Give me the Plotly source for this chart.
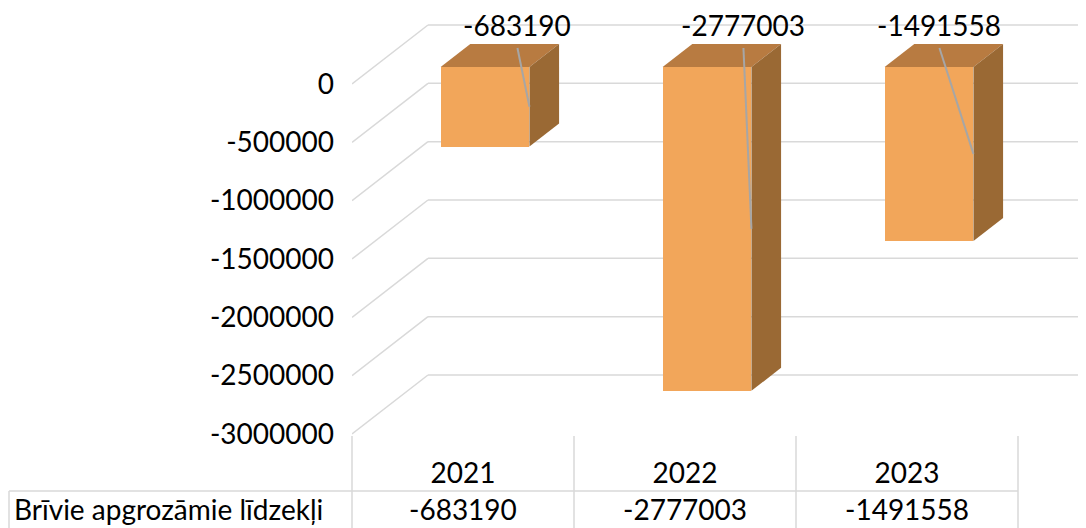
import plotly.graph_objects as go

# ---------------- data ----------------
categories = ["2021", "2022", "2023"]
values = [-683190, -2777003, -1491558]
series_name = "Brīvie apgrozāmie līdzekļi"
tick_values = [0, -500000, -1000000, -1500000, -2000000, -2500000, -3000000]
tick_labels = ["0", "-500000", "-1000000", "-1500000", "-2000000", "-2500000", "-3000000"]

# ---------------- style / geometry ----------------
OFF = 8                       # page body margin in the browser
W, H = 1086 - OFF, 528 - OFF
ML = 352 - OFF
PLOT_H = 440 - OFF
MB = H - PLOT_H
K = 350 / 3e6                 # px per value unit
Y_ZERO_PX = 84 - OFF
y_top = Y_ZERO_PX / K
y_bot = -(PLOT_H - Y_ZERO_PX) / K
SLOT_PX = 222
x_left = -0.5
x_right = -0.5 + (W - ML) / SLOT_PX
DEPTH_DX = 76 / SLOT_PX       # x units for full depth
DEPTH_DY = 59 / K             # value units for full depth
D_FRONT, D_BACK = 0.29, 0.68
HALF_W = 0.2
FRONT_C = "#F2A65A"
TOP_C = "#B87B41"
SIDE_C = "#9A6934"
GRID_C = "#D9D9D9"
LEADER_C = "#A6A6A6"
FONT = "Lato"
FS = 28
label_dx_px = [-12, -8, -34]
LABEL_Y = 25 - OFF            # px
LEADER_TOP = 48 - OFF         # px


def px_to_val(py):
    return (Y_ZERO_PX - py) / K


def xpaper(x):
    return (x - x_left) / (x_right - x_left)


def ypaper(py_ref):
    return (PLOT_H - (py_ref - OFF)) / PLOT_H


def xpaper_px(px_ref):
    return ((px_ref - OFF) - ML) / (W - ML)


fig = go.Figure()

xs = list(range(len(categories)))
front_shift_x = DEPTH_DX * D_FRONT
front_shift_y = DEPTH_DY * D_FRONT
back_shift_x = DEPTH_DX * D_BACK
back_shift_y = DEPTH_DY * D_BACK
ddx = back_shift_x - front_shift_x
ddy = back_shift_y - front_shift_y

# front faces
fig.add_trace(go.Bar(
    x=[i + front_shift_x for i in xs], y=values, base=front_shift_y,
    width=2 * HALF_W, marker=dict(color=FRONT_C, line=dict(width=0)),
    hoverinfo="skip", showlegend=False))

for i, v in zip(xs, values):
    c = i + front_shift_x
    l, r = c - HALF_W, c + HALF_W
    b0 = front_shift_y
    # top face
    fig.add_trace(go.Scatter(
        x=[l, r, r + ddx, l + ddx, l],
        y=[b0, b0, b0 + ddy, b0 + ddy, b0],
        fill="toself", fillcolor=TOP_C, mode="lines", line=dict(width=0, color=TOP_C),
        hoverinfo="skip", showlegend=False))
    # side face
    fig.add_trace(go.Scatter(
        x=[r, r + ddx, r + ddx, r, r],
        y=[b0, b0 + ddy, b0 + ddy + v, b0 + v, b0],
        fill="toself", fillcolor=SIDE_C, mode="lines", line=dict(width=0, color=SIDE_C),
        hoverinfo="skip", showlegend=False))

# leader lines and data labels
for i, v, dpx in zip(xs, values, label_dx_px):
    r = i + front_shift_x + HALF_W
    lx = r + dpx / SLOT_PX
    fig.add_trace(go.Scatter(
        x=[lx, r], y=[px_to_val(LEADER_TOP), front_shift_y + v / 2],
        mode="lines", line=dict(color=LEADER_C, width=2),
        hoverinfo="skip", showlegend=False))
    fig.add_annotation(x=lx, y=px_to_val(LABEL_Y), text=str(v), showarrow=False,
                       font=dict(family=FONT, size=FS, color="black"),
                       xanchor="center", yanchor="middle")

# gridlines (back wall + side wall)
shapes = []
for t in tick_values:
    shapes.append(dict(type="line", xref="x", yref="y", layer="below",
                       x0=x_left, y0=t, x1=x_left + DEPTH_DX, y1=t + DEPTH_DY,
                       line=dict(color=GRID_C, width=1.5)))
    shapes.append(dict(type="line", xref="x", yref="y", layer="below",
                       x0=x_left + DEPTH_DX, y0=t + DEPTH_DY, x1=x_right + 1, y1=t + DEPTH_DY,
                       line=dict(color=GRID_C, width=1.5)))

# data table borders
for b in [-0.5, 0.5, 1.5, 2.5]:
    shapes.append(dict(type="line", xref="paper", yref="paper",
                       x0=xpaper(b), x1=xpaper(b), y0=ypaper(436), y1=ypaper(530),
                       line=dict(color=GRID_C, width=1.5)))
tbl_left = xpaper_px(9)
shapes.append(dict(type="line", xref="paper", yref="paper",
                   x0=tbl_left, x1=xpaper(2.5), y0=ypaper(491), y1=ypaper(491),
                   line=dict(color=GRID_C, width=1.5)))
shapes.append(dict(type="line", xref="paper", yref="paper",
                   x0=tbl_left, x1=tbl_left, y0=ypaper(491), y1=ypaper(530),
                   line=dict(color=GRID_C, width=1.5)))

# table data row
for i, v in zip(xs, values):
    fig.add_annotation(x=i, xref="x", y=ypaper(509), yref="paper", text=str(v),
                       showarrow=False, font=dict(family=FONT, size=FS, color="black"),
                       xanchor="center", yanchor="middle")
fig.add_annotation(x=xpaper_px(12), xref="paper", y=ypaper(509), yref="paper",
                   text=series_name, showarrow=False,
                   font=dict(family=FONT, size=FS, color="black"),
                   xanchor="left", yanchor="middle")

fig.update_layout(
    width=W, height=H,
    margin=dict(l=ML, r=0, t=0, b=MB, pad=0),
    paper_bgcolor="white", plot_bgcolor="white",
    shapes=shapes, showlegend=False, bargap=0,
    font=dict(family=FONT, size=FS, color="black"),
    xaxis=dict(type="linear", range=[x_left, x_right], tickvals=xs, ticktext=categories,
               showgrid=False, zeroline=False, showline=False, ticks="",
               ticklabelstandoff=14, tickfont=dict(family=FONT, size=FS, color="black"),
               fixedrange=True),
    yaxis=dict(range=[y_bot, y_top], tickvals=tick_values, ticktext=tick_labels,
               showgrid=False, zeroline=False, showline=False, ticks="",
               ticklabelstandoff=17, tickfont=dict(family=FONT, size=FS, color="black"),
               fixedrange=True),
)

fig.write_html("out.html")
